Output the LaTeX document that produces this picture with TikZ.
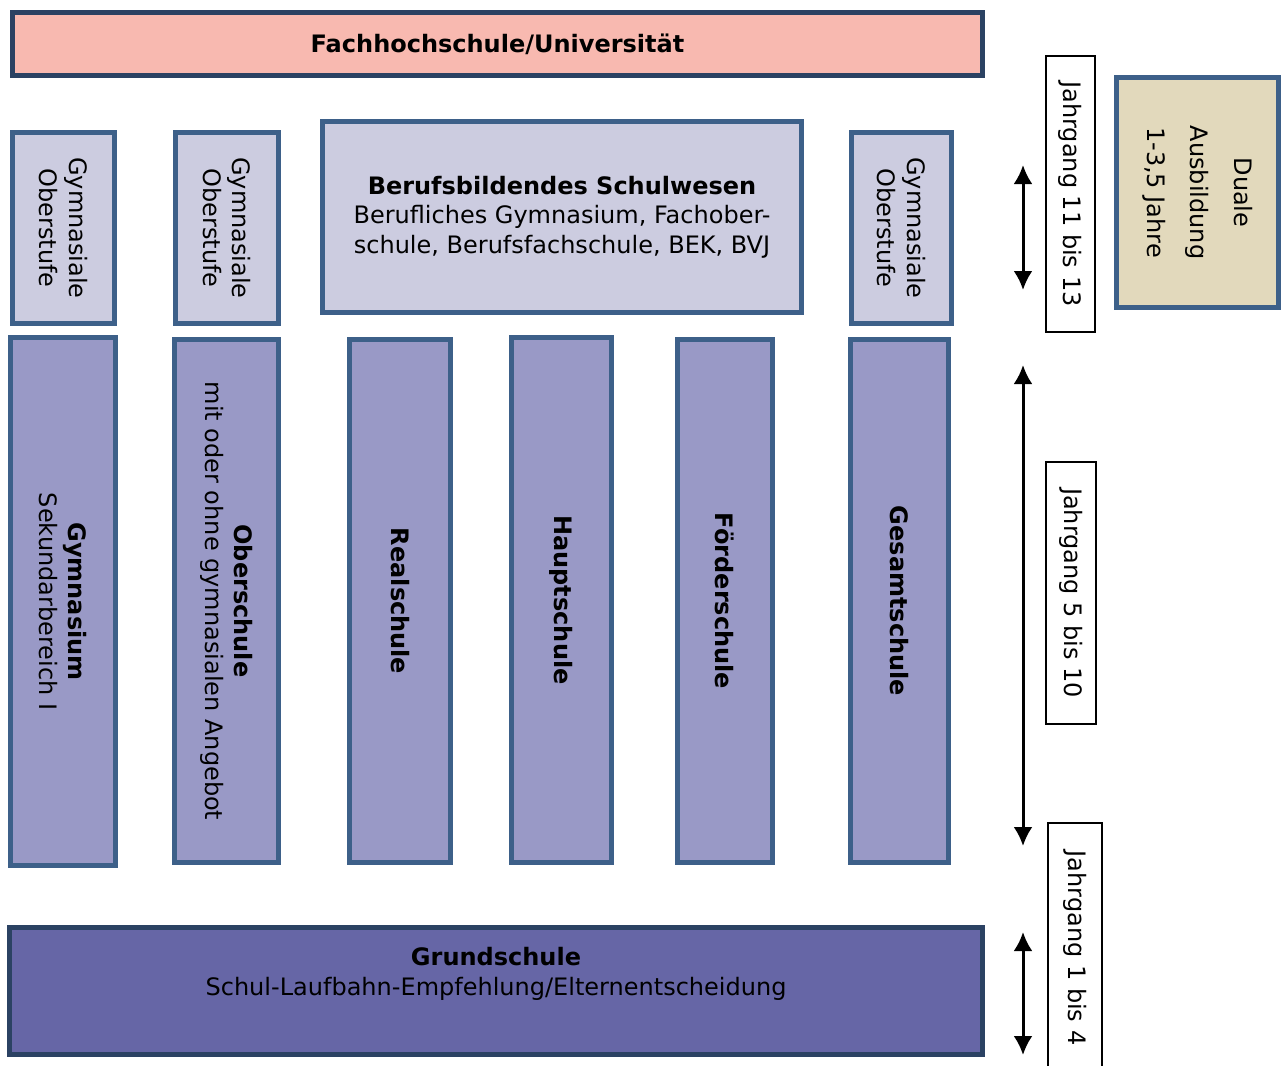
\documentclass[tikz,border=0pt]{standalone}
\usepackage{fontspec}
\setmainfont{DejaVu Sans}
\usetikzlibrary{arrows.meta}
\definecolor{rahmen}{HTML}{3D6089}
\definecolor{rahmendunkel}{HTML}{2B4263}
\definecolor{hochschule}{HTML}{F8B9B0}
\definecolor{oberstufe}{HTML}{CCCCE0}
\definecolor{sekundar}{HTML}{9999C6}
\definecolor{grund}{HTML}{6666A6}
\definecolor{duale}{HTML}{E2D9BC}
\begin{document}
\begin{tikzpicture}[x=1pt,y=-1pt,
		font=\fontsize{24}{29.5}\selectfont,
		kasten/.style={draw=rahmen,line width=5.5pt,align=center,inner sep=0pt},
		hoch/.style={kasten,rotate=-90},
		ostufe/.style={hoch,fill=oberstufe,minimum width=191pt},
		sek/.style={hoch,fill=sekundar,minimum width=523pt},
		jahr/.style={draw=black,line width=1.5pt,rotate=-90,inner sep=0pt},
		pfeil/.style={line width=3pt,{Latex[length=19pt,width=19pt]}-{Latex[length=19pt,width=19pt]}}]
	\path[use as bounding box,clip] (0,0) rectangle (1281,1065);
	% oben
	\node[kasten,draw=rahmendunkel,fill=hochschule,minimum width=970pt,minimum height=63pt] (fh) at (497.5,44) {\textbf{Fachhochschule/Universität}};
	% Sekundarbereich II
	\path (63.5,228) node[ostufe,minimum height=102pt] (go1) {Gymnasiale\\Oberstufe}
		(227,228) node[ostufe,minimum height=103pt] (go2) {Gymnasiale\\Oberstufe}
		(901.5,228) node[ostufe,minimum height=100pt] (go3) {Gymnasiale\\Oberstufe};
	\node[kasten,fill=oberstufe,minimum width=479pt,minimum height=191pt] (bbs) at (562,217)
		{\textbf{Berufsbildendes Schulwesen}\\Berufliches Gymnasium, Fachober-\\schule, Berufsfachschule, BEK, BVJ};
	% Sekundarbereich I
	\path (63,601.5) node[sek,minimum width=528pt,minimum height=105pt] (gym) {\textbf{Gymnasium}\\Sekundarbereich I}
		(226.5,601) node[sek,minimum height=104pt] (obs) {\textbf{Oberschule}\\mit oder ohne gymnasialen Angebot}
		(400,601) node[sek,minimum height=101pt] (rs) {\textbf{Realschule}}
		(561.5,600) node[sek,minimum width=525pt,minimum height=100pt] (hs) {\textbf{Hauptschule}}
		(725,601) node[sek,minimum height=95pt] (fs) {\textbf{Förderschule}}
		(899.5,601) node[sek,minimum height=98pt] (ges) {\textbf{Gesamtschule}};
	% Primarbereich
	\node[kasten,draw=rahmendunkel,fill=grund,minimum width=973pt,minimum height=127pt] (gs) at (496,991) {};
	\node[align=center,inner sep=0pt] (gstext) at (496,974) {\textbf{Grundschule}\\Schul-Laufbahn-Empfehlung/Elternentscheidung};
	% rechts
	\node[hoch,fill=duale,minimum width=230pt,minimum height=162pt] (da) at (1197.5,192.5) {Duale\\[14pt]Ausbildung\\[14pt]1-3,5 Jahre};
	\path (1070.5,194) node[jahr,minimum width=276pt,minimum height=49pt] (j1) {Jahrgang 11 bis 13}
		(1071,593) node[jahr,minimum width=262pt,minimum height=50pt] (j2) {Jahrgang 5 bis 10}
		(1075,948) node[jahr,minimum width=250pt,minimum height=54pt] (j3) {Jahrgang 1 bis 4};
	\coordinate (p1o) at (1023,165); \coordinate (p1u) at (1023,290);
	\coordinate (p2o) at (1023,365); \coordinate (p2u) at (1023,846);
	\coordinate (p3o) at (1023,932); \coordinate (p3u) at (1023,1055);
	\draw[pfeil] (p1o) -- (p1u);
	\draw[pfeil] (p2o) -- (p2u);
	\draw[pfeil] (p3o) -- (p3u);
\end{tikzpicture}
\end{document}
